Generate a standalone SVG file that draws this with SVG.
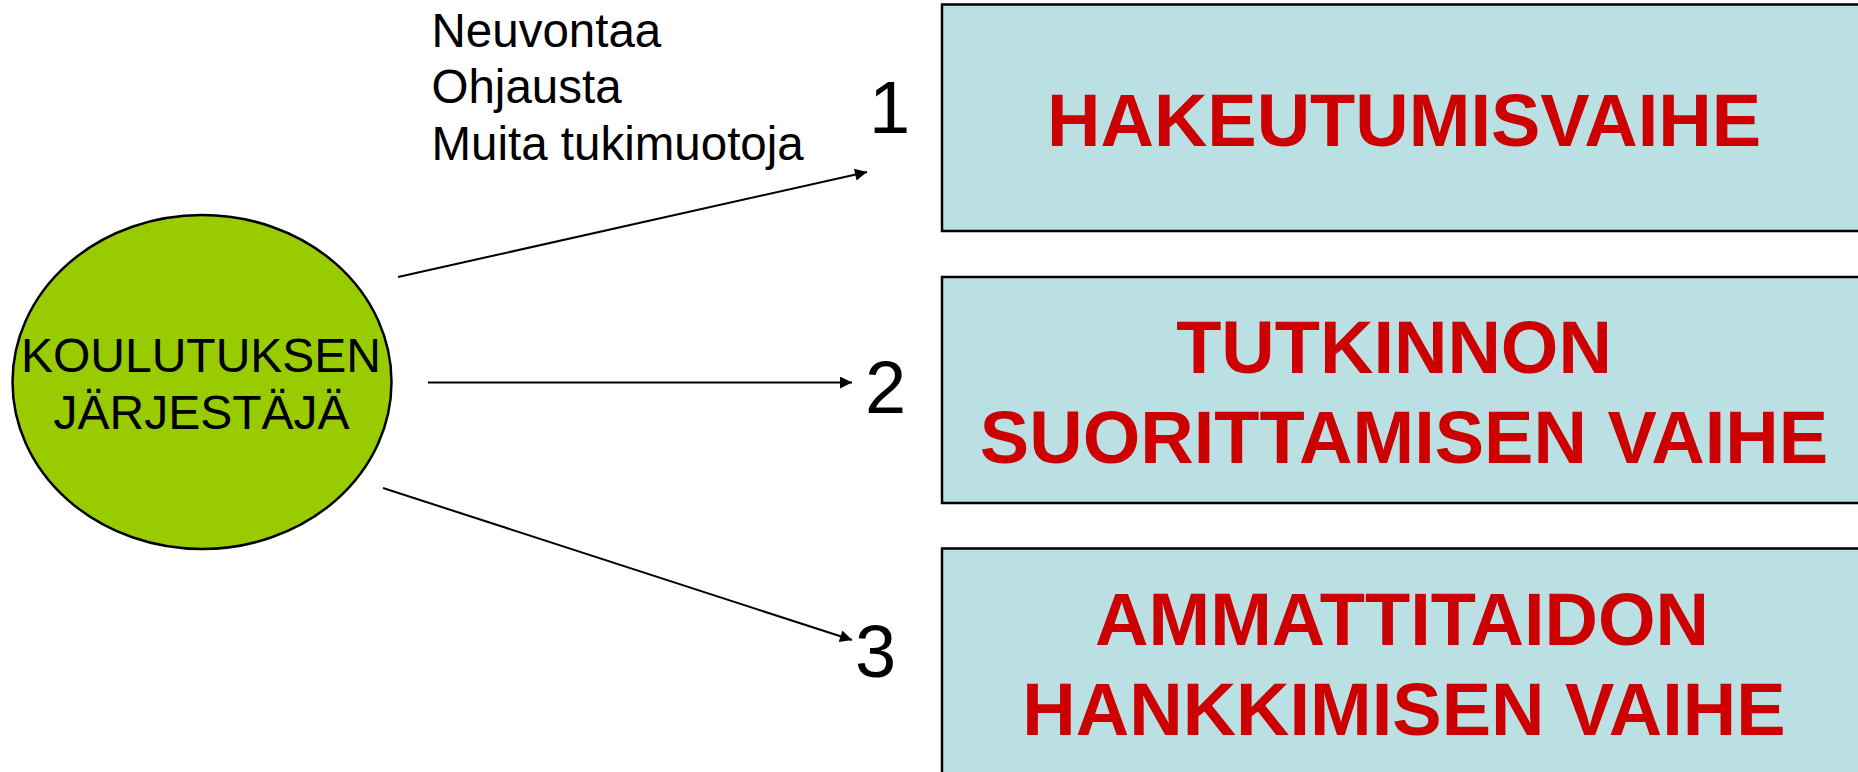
<svg xmlns="http://www.w3.org/2000/svg" width="1858" height="772" viewBox="0 0 1858 772">
<style>
.box{fill:#BBE0E3;stroke:#000;stroke-width:2.5}
.bt{font-family:"Liberation Sans",Arial,sans-serif;font-weight:bold;font-size:74px;fill:#CC0000;text-anchor:middle}
.t{font-family:"Liberation Sans",Arial,sans-serif;fill:#000}
.num{font-family:"Liberation Sans",Arial,sans-serif;font-size:74px;fill:#000}
.c{stroke:#000;stroke-width:2;fill:none;marker-end:url(#ah)}
</style>
<defs>
<marker id="ah" viewBox="0 0 10 10" refX="10" refY="5" markerUnits="userSpaceOnUse" markerWidth="15" markerHeight="12" orient="auto">
<path d="M0,0 L10,5 L0,10 Z" fill="#000"/>
</marker>
</defs>
<rect width="1858" height="772" fill="#fff"/>
<g id="organizer">
<ellipse cx="202" cy="382" rx="189.5" ry="167" fill="#99CC00" stroke="#000" stroke-width="2.5"/>
<text class="t" x="201" y="372" font-size="48" text-anchor="middle">KOULUTUKSEN</text>
<text class="t" x="201.5" y="429" font-size="48" text-anchor="middle">JÄRJESTÄJÄ</text>
</g>
<g id="support-label">
<text class="t" x="431.5" y="47" font-size="47.5">Neuvontaa</text>
<text class="t" x="431.5" y="103" font-size="47.5">Ohjausta</text>
<text class="t" x="431.5" y="160" font-size="47.5">Muita tukimuotoja</text>
</g>
<g id="connectors">
<line class="c" x1="398" y1="277" x2="867" y2="172"/>
<line class="c" x1="428" y1="382.5" x2="852" y2="382.5"/>
<line class="c" x1="383" y1="488" x2="852" y2="640"/>
</g>
<g id="numbers">
<text class="num" x="869" y="133">1</text>
<text class="num" x="865" y="413">2</text>
<text class="num" x="855" y="677">3</text>
</g>
<g id="phase1">
<rect class="box" x="942" y="4.5" width="940" height="226.5"/>
<text class="bt" x="1404" y="146">HAKEUTUMISVAIHE</text>
</g>
<g id="phase2">
<rect class="box" x="942" y="277" width="940" height="226"/>
<text class="bt" x="1394" y="373">TUTKINNON</text>
<text class="bt" x="1404" y="463">SUORITTAMISEN VAIHE</text>
</g>
<g id="phase3">
<rect class="box" x="942" y="548.5" width="940" height="260"/>
<text class="bt" x="1402" y="645">AMMATTITAIDON</text>
<text class="bt" x="1404" y="735">HANKKIMISEN VAIHE</text>
</g>
</svg>
